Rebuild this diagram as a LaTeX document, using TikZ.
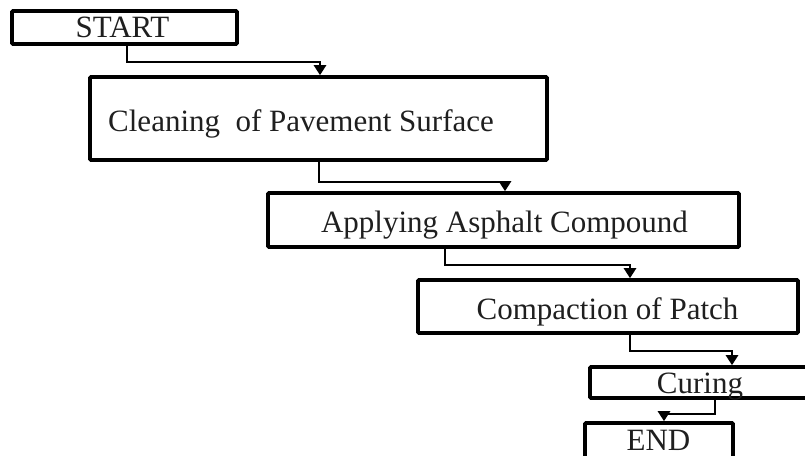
\documentclass[tikz,border=0pt]{standalone}
\usepackage{fontspec}
\setmainfont{Liberation Serif}
\usetikzlibrary{arrows.meta}
\tikzset{
  stepbox/.style={draw=black, line width=3.6pt, rounded corners=1pt, minimum width=#1, inner sep=0pt},
  lbl/.style={anchor=base, inner sep=0pt, font=\fontsize{31}{36}\selectfont, text=black!88},
  conn/.style={draw=black, line width=2.5pt, line join=miter, -{Triangle[length=10pt,width=12pt]}}
}
\begin{document}
\begin{tikzpicture}[x=1pt,y=-1pt]
\useasboundingbox (0,0) rectangle (805,455);
% boxes
\node[stepbox=225pt, minimum height=33pt] (start) at (124.5,27.5) {};
\node[stepbox=457pt, minimum height=83pt] (clean) at (318.5,118.5) {};
\node[stepbox=471pt, minimum height=54pt] (apply) at (503.5,220) {};
\node[stepbox=380pt, minimum height=53pt] (compact) at (608,306.5) {};
\node[stepbox=220pt, minimum height=31pt] (curing) at (700,382.5) {};
\node[stepbox=148pt, minimum height=39pt] (end) at (659,442.5) {};
% labels
\node[lbl] (tstart) at (122.5,37) {START};
\node[lbl, anchor=base west] (tclean) at (108,131) {Cleaning\ \ of Pavement Surface};
\node[lbl] (tapply) at (504.5,232) {Applying Asphalt Compound};
\node[lbl] (tcompact) at (607.5,319) {Compaction of Patch};
\node[lbl] (tcuring) at (700,393) {Curing};
\node[lbl] (tend) at (658.5,450) {END};
% connectors
\draw[conn] ([xshift=2.5pt]start.south) -- ++(0pt,-16pt) -| ([xshift=1.5pt]clean.north);
\draw[conn] ([xshift=0.5pt]clean.south) -- ++(0pt,-20pt) -| ([xshift=1.5pt]apply.north);
\draw[conn] ([xshift=-58.5pt]apply.south) -- ++(0pt,-16pt) -| ([xshift=22pt]compact.north);
\draw[conn] ([xshift=22pt]compact.south) -- ++(0pt,-16pt) -| ([xshift=32pt]curing.north);
\draw[conn] ([xshift=15pt]curing.south) -- ++(0pt,-14pt) -| ([xshift=5pt]end.north);
\end{tikzpicture}
\end{document}
